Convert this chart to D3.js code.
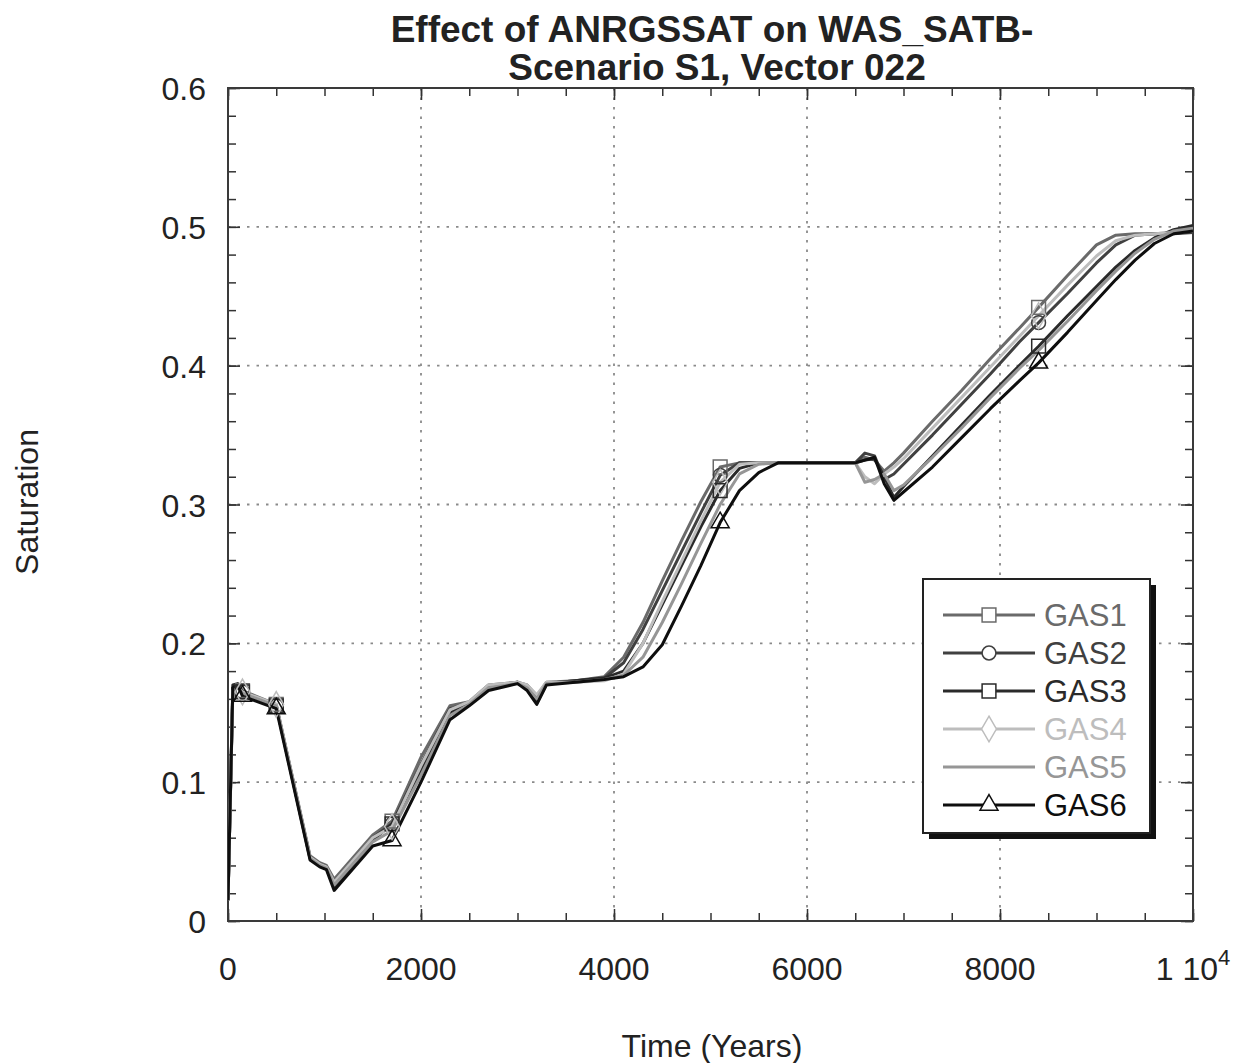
<!DOCTYPE html>
<html><head><meta charset="utf-8">
<script src="https://cdn.jsdelivr.net/npm/d3@7"></script>
<style>body{margin:0;background:#fff}svg{display:block}text{font-family:"Liberation Sans",Arial,sans-serif}</style>
</head><body><svg id="c" width="1246" height="1063"></svg>
<script>
const times = [0,50,100,150,500,850,950,1020,1100,1500,1700,2000,2300,2500,2700,3000,3100,3200,3300,3600,3900,4100,4300,4500,4700,4900,5100,5300,5500,5700,6000,6300,6500,6600,6700,6800,6900,7000,7300,7600,7900,8200,8400,8700,9000,9200,9400,9600,9800,10000];
const gas1 = [0.015,0.166,0.17,0.166,0.156,0.047,0.042,0.04,0.03,0.062,0.072,0.118,0.155,0.158,0.17,0.172,0.17,0.162,0.172,0.173,0.176,0.19,0.215,0.245,0.274,0.302,0.327,0.33,0.33,0.33,0.33,0.33,0.33,0.334,0.332,0.324,0.33,0.337,0.36,0.382,0.405,0.427,0.442,0.465,0.487,0.494,0.495,0.495,0.496,0.497];
const gas2 = [0.015,0.168,0.17,0.165,0.155,0.046,0.041,0.039,0.027,0.06,0.07,0.113,0.153,0.157,0.169,0.172,0.169,0.16,0.171,0.173,0.175,0.186,0.21,0.238,0.266,0.294,0.321,0.33,0.33,0.33,0.33,0.33,0.33,0.337,0.335,0.318,0.322,0.329,0.35,0.372,0.394,0.417,0.431,0.452,0.474,0.487,0.494,0.495,0.495,0.496];
const gas3 = [0.015,0.17,0.171,0.165,0.155,0.045,0.04,0.038,0.024,0.058,0.07,0.108,0.15,0.157,0.168,0.172,0.167,0.157,0.171,0.173,0.175,0.18,0.2,0.228,0.256,0.284,0.31,0.326,0.33,0.33,0.33,0.33,0.33,0.332,0.333,0.32,0.305,0.313,0.335,0.357,0.379,0.4,0.414,0.436,0.457,0.471,0.483,0.492,0.498,0.501];
const gas4 = [0.015,0.166,0.169,0.165,0.156,0.046,0.041,0.039,0.028,0.06,0.068,0.112,0.152,0.158,0.17,0.172,0.17,0.163,0.172,0.172,0.173,0.178,0.2,0.23,0.259,0.288,0.316,0.329,0.33,0.33,0.33,0.33,0.33,0.32,0.315,0.322,0.327,0.333,0.355,0.377,0.399,0.421,0.436,0.458,0.479,0.49,0.494,0.495,0.496,0.497];
const gas5 = [0.015,0.165,0.168,0.164,0.155,0.045,0.04,0.038,0.026,0.057,0.065,0.105,0.148,0.156,0.168,0.171,0.168,0.16,0.171,0.172,0.174,0.177,0.19,0.215,0.243,0.272,0.3,0.322,0.329,0.33,0.33,0.33,0.33,0.316,0.318,0.322,0.31,0.314,0.334,0.355,0.377,0.398,0.411,0.432,0.454,0.468,0.481,0.491,0.497,0.499];
const gas6 = [0.015,0.168,0.17,0.162,0.153,0.044,0.039,0.037,0.022,0.054,0.058,0.1,0.145,0.155,0.166,0.171,0.166,0.156,0.17,0.172,0.174,0.176,0.183,0.199,0.227,0.256,0.287,0.31,0.323,0.33,0.33,0.33,0.33,0.332,0.334,0.315,0.303,0.309,0.327,0.348,0.369,0.389,0.402,0.424,0.447,0.462,0.476,0.488,0.495,0.497];
const seriesNames = ["GAS1","GAS2","GAS3","GAS4","GAS5","GAS6"];
const markerTimes = [150,500,1700,5100,8400];
const xTicks = [0,2000,4000,6000,8000,10000];
const xTickLabels = ["0","2000","4000","6000","8000","1 10"];
const yTicks = [0,0.1,0.2,0.3,0.4,0.5,0.6];
const yTickLabels = ["0","0.1","0.2","0.3","0.4","0.5","0.6"];

const seriesValues = [gas1,gas2,gas3,gas4,gas5,gas6];
const colors = ["#6a6a6a","#404040","#2a2a2a","#bdbdbd","#969696","#0e0e0e"];
const symbols = [d3.symbolSquare,d3.symbolCircle,d3.symbolSquare,d3.symbolDiamond,null,d3.symbolTriangle];

const svg = d3.select("#c");
const L=228,R=1193,T=88,B=921;
const x = d3.scaleLinear().domain([0,10000]).range([L,R]);
const y = d3.scaleLinear().domain([0,0.6]).range([B,T]);

// grid
const g = svg.append("g");
g.selectAll(".gx").data(xTicks.slice(1,-1)).enter().append("line")
 .attr("x1",d=>x(d)).attr("x2",d=>x(d)).attr("y1",T).attr("y2",B)
 .attr("stroke","#8a8a8a").attr("stroke-width",1.8).attr("stroke-dasharray","2.5,7");
g.selectAll(".gy").data(yTicks.slice(1,-1)).enter().append("line")
 .attr("y1",d=>y(d)).attr("y2",d=>y(d)).attr("x1",L).attr("x2",R)
 .attr("stroke","#8a8a8a").attr("stroke-width",1.8).attr("stroke-dasharray","2.5,7");

// axes with inward ticks
const xMinor = d3.range(0,10001,500);
const yMinor = d3.range(0,0.6001,0.02);
function axisSet(axis, tr){ return svg.append("g").attr("transform",tr).call(axis); }
const axB = axisSet(d3.axisTop(x).tickValues(xMinor).tickSize(8).tickFormat(""), `translate(0,${B})`);
const axT = axisSet(d3.axisBottom(x).tickValues(xMinor).tickSize(8).tickFormat(""), `translate(0,${T})`);
const axL = axisSet(d3.axisRight(y).tickValues(yMinor).tickSize(8).tickFormat(""), `translate(${L},0)`);
const axR = axisSet(d3.axisLeft(y).tickValues(yMinor).tickSize(8).tickFormat(""), `translate(${R},0)`);
const axB2 = axisSet(d3.axisTop(x).tickValues(xTicks).tickSize(12).tickFormat(""), `translate(0,${B})`);
const axT2 = axisSet(d3.axisBottom(x).tickValues(xTicks).tickSize(12).tickFormat(""), `translate(0,${T})`);
const axL2 = axisSet(d3.axisRight(y).tickValues(yTicks).tickSize(12).tickFormat(""), `translate(${L},0)`);
const axR2 = axisSet(d3.axisLeft(y).tickValues(yTicks).tickSize(12).tickFormat(""), `translate(${R},0)`);
[axB,axT,axL,axR,axB2,axT2,axL2,axR2].forEach(a=>{a.select(".domain").remove();a.selectAll("line").attr("stroke","#333").attr("stroke-width",1.5);});
svg.append("rect").attr("x",L).attr("y",T).attr("width",R-L).attr("height",B-T)
 .attr("fill","none").attr("stroke","#3a3a3a").attr("stroke-width",2);

// tick labels
svg.append("g").selectAll("text").data(yTicks).enter().append("text")
 .attr("x",L-22).attr("y",d=>y(d)+12).attr("text-anchor","end").attr("font-size",32).attr("fill","#222")
 .text((d,i)=>yTickLabels[i]);
const xl = svg.append("g").selectAll("text").data(xTicks).enter().append("text")
 .attr("x",d=>x(d)).attr("y",980).attr("text-anchor","middle").attr("font-size",32).attr("fill","#222");
xl.each(function(d,i){
  const t=d3.select(this);
  t.append("tspan").text(xTickLabels[i]);
  if(d===10000){ t.append("tspan").attr("dy",-15).attr("font-size",22).text("4"); }
});

// axis titles
svg.append("text").attr("x",712).attr("y",1057).attr("text-anchor","middle").attr("font-size",32).attr("fill","#222").text("Time (Years)");
svg.append("text").attr("transform","translate(38,502) rotate(-90)").attr("text-anchor","middle").attr("font-size",32).attr("fill","#222").text("Saturation");
// title
svg.append("text").attr("x",712).attr("y",42).attr("text-anchor","middle").attr("font-size",37).attr("font-weight","bold").attr("fill","#222").text("Effect of ANRGSSAT on WAS_SATB-");
svg.append("text").attr("x",717).attr("y",80).attr("text-anchor","middle").attr("font-size",37).attr("font-weight","bold").attr("fill","#222").text("Scenario S1, Vector 022");

// lines
const line = d3.line().x(d=>x(d[0])).y(d=>y(d[1]));
svg.append("defs").append("clipPath").attr("id","pc").append("rect").attr("x",L).attr("y",T-5).attr("width",R-L).attr("height",B-T+5);
const lg = svg.append("g").attr("clip-path","url(#pc)");
seriesValues.forEach((vals,i)=>{
  const pts = times.map((t,j)=>[t,vals[j]]);
  lg.append("path").datum(pts).attr("d",line).attr("fill","none").attr("stroke",colors[i]).attr("stroke-width",3).attr("stroke-linejoin","round");
});
function symSize(s){ return s===d3.symbolCircle?150:s===d3.symbolTriangle?140:190; }
seriesValues.forEach((vals,i)=>{
  if(!symbols[i]) return;
  const sym = d3.symbol().type(symbols[i]).size(symSize(symbols[i]));
  const pts = markerTimes.map(t=>[t, vals[times.indexOf(t)]]);
  lg.selectAll(null).data(pts).enter().append("path").attr("d",sym)
    .attr("transform",d=>`translate(${x(d[0])},${y(d[1])})`)
    .attr("fill","none").attr("stroke",colors[i]).attr("stroke-width",1.5);
});

// legend
const lx=923, ly=579, lw=227, lh=254;
svg.append("rect").attr("x",lx+6).attr("y",ly+6).attr("width",lw).attr("height",lh).attr("fill","#111");
svg.append("rect").attr("x",lx).attr("y",ly).attr("width",lw).attr("height",lh).attr("fill","#fff").attr("stroke","#222").attr("stroke-width",2);
seriesNames.forEach((n,i)=>{
  const yy = ly+36+i*38;
  svg.append("line").attr("x1",lx+20).attr("x2",lx+112).attr("y1",yy).attr("y2",yy).attr("stroke",colors[i]).attr("stroke-width",3);
  if(symbols[i]){
    const sym = d3.symbol().type(symbols[i]).size(symSize(symbols[i]));
    svg.append("path").attr("d",sym).attr("transform",`translate(${lx+66},${yy})`).attr("fill","#fff").attr("stroke",colors[i]).attr("stroke-width",1.5);
  }
  svg.append("text").attr("x",lx+121).attr("y",yy+11).attr("font-size",31).attr("fill",colors[i]).text(n);
});
</script></body></html>
